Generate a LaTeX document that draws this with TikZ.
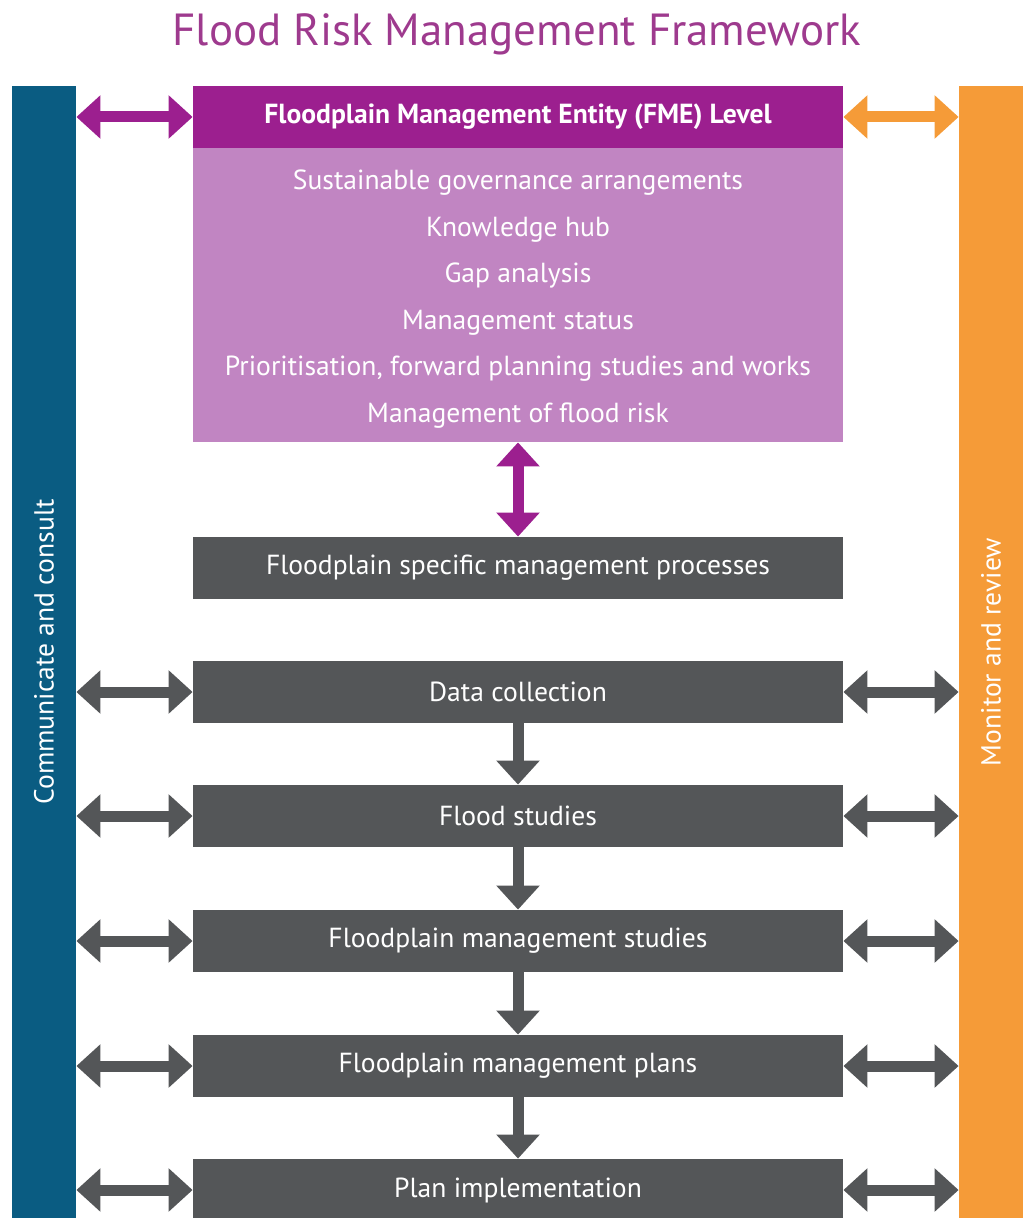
\documentclass[tikz,border=0pt]{standalone}
\usepackage{fontspec}
\setmainfont{PT Sans}
\usetikzlibrary{arrows.meta}
\definecolor{fmepurple}{HTML}{9C1F8F}
\definecolor{fmelight}{HTML}{C185C2}
\definecolor{titlepurple}{HTML}{9E3A8E}
\definecolor{stagegrey}{HTML}{545658}
\definecolor{commblue}{HTML}{0A5C82}
\definecolor{monorange}{HTML}{F59B38}

\begin{document}
\begin{tikzpicture}[x=0.5pt,y=-0.5pt,font=\fontsize{13.8}{16}\selectfont,
  stage/.style={fill=stagegrey,text=white,minimum width=325pt,minimum height=31pt,inner sep=0pt},
  bar/.style={rotate=90,minimum width=566pt,minimum height=32pt,inner sep=0pt,text=white},
  dbl/.style={line width=5.5pt,{Triangle[width=21pt,length=12pt]}-{Triangle[width=21pt,length=12pt]}},
  down/.style={line width=5.5pt,-{Triangle[width=21pt,length=12pt]}}]
\useasboundingbox (0,0) rectangle (1025,1218);
\node[text=titlepurple,font=\fontsize{22.5}{27}\selectfont] (title) at (517,34) {Flood Risk Management Framework};
% side bars
\node[bar,fill=commblue] (comm) at (44,652) {Communicate and consult};
\node[bar,fill=monorange] (mon) at (991,652) {Monitor and review};
% FME level
\node[stage,fill=fmepurple,font=\fontsize{13.8}{16}\selectfont\bfseries] (fmehead) at (518,117) {Floodplain Management Entity (FME) Level};
\node[stage,fill=fmelight,minimum height=147pt] (fmebody) at (518,295) {};
\node[text=white,align=center,font=\fontsize{13.8}{23.25}\selectfont] (fmelist) at (518,299)
  {Sustainable governance arrangements\\Knowledge hub\\Gap analysis\\Management status\\Prioritisation, forward planning studies and works\\Management of flood risk};
% process boxes
\node[stage] (spec) at (518,568) {Floodplain specific management processes};
\node[stage] (data) at (518,692) {Data collection};
\node[stage] (flood) at (518,816) {Flood studies};
\node[stage] (fmstud) at (518,941) {Floodplain management studies};
\node[stage] (fmplan) at (518,1066) {Floodplain management plans};
\node[stage] (impl) at (518,1190) {Plan implementation};
% connectors
\draw[dbl,fmepurple] (comm.south |- fmehead) -- (fmehead);
\draw[dbl,monorange] (fmehead) -- (mon.north |- fmehead);
\draw[dbl,fmepurple] (fmebody) -- (spec);
\draw[down,stagegrey] (data) -- (flood);
\draw[down,stagegrey] (flood) -- (fmstud);
\draw[down,stagegrey] (fmstud) -- (fmplan);
\draw[down,stagegrey] (fmplan) -- (impl);
\foreach \s in {data,flood,fmstud,fmplan,impl} {
  \draw[dbl,stagegrey] (comm.south |- \s) -- (\s);
  \draw[dbl,stagegrey] (\s) -- (mon.north |- \s);
}
\end{tikzpicture}
\end{document}
